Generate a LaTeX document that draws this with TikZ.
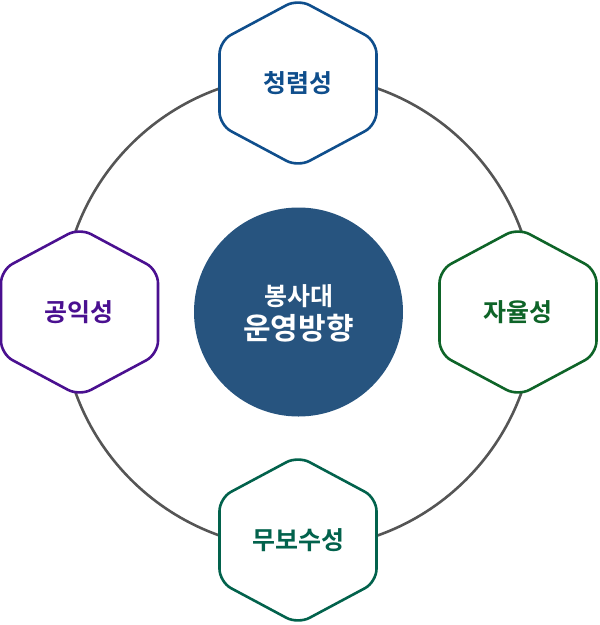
\documentclass[tikz,border=0pt]{standalone}
\usepackage{fontspec}
\newfontfamily\kr{Noto Sans CJK KR}[BoldFont={Noto Sans CJK KR Bold}]
\definecolor{ringgray}{HTML}{555555}
\definecolor{hexblue}{HTML}{0F4E8C}
\definecolor{hexpurple}{HTML}{4A1090}
\definecolor{hexgreen}{HTML}{0E6428}
\definecolor{hexteal}{HTML}{02624C}
\definecolor{centerfill}{HTML}{27547F}
\tikzset{
  hexa/.pic={\draw[line width=2.6pt,fill=white,rounded corners=13pt]
     (0,-84)--(78.5,-42)--(78.5,42)--(0,84)--(-78.5,42)--(-78.5,-42)--cycle;},
  hexlabel/.style={font=\kr\bfseries\fontsize{25}{28}\selectfont},
}
\begin{document}
\begin{tikzpicture}[x=1pt,y=-1pt]
\useasboundingbox (0,0) rectangle (600,625);
\coordinate (c) at (298.5,312);
\draw[ringgray,line width=2.6pt] (c) circle[radius=237];
\node[circle,fill=centerfill,minimum size=209pt,inner sep=0pt] (hub) at (c) {};
\node[white,font=\kr\bfseries\fontsize{25}{28}\selectfont] (l1) at (298.5,296) {봉사대};
\node[white,font=\kr\bfseries\fontsize{30}{32}\selectfont] (l2) at (298.5,328) {운영방향};
\pic[hexblue] at (298,83) {hexa};
\pic[hexpurple] at (79.5,312) {hexa};
\pic[hexgreen] at (518,312) {hexa};
\pic[hexteal] at (298,540) {hexa};
\node[hexlabel,hexblue] (top) at (298,83) {청렴성};
\node[hexlabel,hexpurple] (left) at (79.5,312) {공익성};
\node[hexlabel,hexgreen] (right) at (518,312) {자율성};
\node[hexlabel,hexteal] (bottom) at (298,540) {무보수성};
\end{tikzpicture}
\end{document}
